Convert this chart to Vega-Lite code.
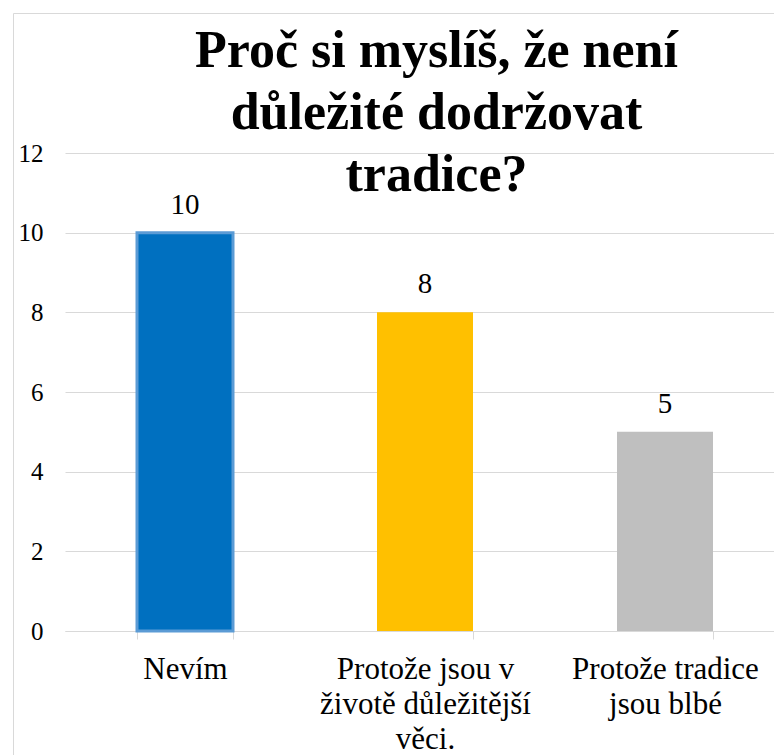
{
  "$schema": "https://vega.github.io/schema/vega-lite/v6.json",
  "autosize": "none",
  "padding": {"left": 13, "top": 13, "right": 0, "bottom": 0},
  "width": 761,
  "height": 742,
  "background": "#ffffff",
  "title": {
    "text": ["Proč si myslíš, že není", "důležité dodržovat", "tradice?"],
    "font": "'Liberation Serif', 'Times New Roman', serif",
    "fontSize": 52,
    "fontWeight": "bold",
    "color": "#000000",
    "lineHeight": 62,
    "anchor": "middle",
    "orient": "top",
    "baseline": "alphabetic",
    "offset": 0,
    "dx": 43,
    "dy": 230
  },
  "config": {
    "view": {"stroke": "#D9D9D9", "strokeWidth": 1}
  },
  "data": {
    "values": [
      {"odpoved": "Nevím", "pocet": 10},
      {"odpoved": "Protože jsou v životě důležitější věci.", "pocet": 8},
      {"odpoved": "Protože tradice jsou blbé", "pocet": 5}
    ]
  },
  "encoding": {
    "x": {
      "field": "odpoved",
      "type": "nominal",
      "sort": null,
      "scale": {
        "type": "band",
        "domain": ["Nevím", "Protože jsou v životě důležitější věci.", "Protože tradice jsou blbé"],
        "range": [52, 772],
        "paddingInner": 0.6,
        "paddingOuter": 0.3
      },
      "axis": {
        "title": null,
        "orient": "bottom",
        "offset": -124,
        "domainColor": "#D9D9D9",
        "domainWidth": 1,
        "tickBand": "extent",
        "tickColor": "#D9D9D9",
        "tickSize": 8,
        "tickWidth": 1,
        "labelAngle": 0,
        "labelPadding": 15,
        "labelFont": "'Liberation Serif', 'Times New Roman', serif",
        "labelFontSize": 31,
        "labelLineHeight": 35,
        "labelColor": "#000000",
        "labelLimit": 400,
        "labelOverlap": false,
        "labelExpr": "datum.value === 'Nevím' ? 'Nevím' : (datum.value === 'Protože tradice jsou blbé' ? ['Protože tradice', 'jsou blbé'] : (datum.value === 'Protože jsou v životě důležitější věci.' ? ['Protože jsou v', 'životě důležitější', 'věci.'] : ''))",
        "grid": false
      }
    },
    "y": {
      "field": "pocet",
      "type": "quantitative",
      "scale": {"domain": [0, 12], "range": [618, 140], "nice": false, "zero": true},
      "axis": {
        "title": null,
        "orient": "left",
        "offset": -52,
        "values": [0, 2, 4, 6, 8, 10, 12],
        "domain": false,
        "ticks": false,
        "grid": true,
        "gridColor": "#D9D9D9",
        "gridWidth": 1,
        "labelPadding": 22,
        "labelFont": "'Liberation Serif', 'Times New Roman', serif",
        "labelFontSize": 25,
        "labelColor": "#000000"
      }
    }
  },
  "layer": [
    {
      "mark": {"type": "bar", "strokeWidth": 3},
      "encoding": {
        "color": {
          "field": "odpoved",
          "type": "nominal",
          "scale": {
            "domain": ["Nevím", "Protože jsou v životě důležitější věci.", "Protože tradice jsou blbé"],
            "range": ["#0070C0", "#FFC000", "#BFBFBF"]
          },
          "legend": null
        },
        "stroke": {
          "condition": {"test": "datum.odpoved === 'Nevím'", "value": "#5B9BD5"},
          "value": null
        }
      }
    },
    {
      "mark": {
        "type": "text",
        "baseline": "alphabetic",
        "dy": -19,
        "font": "'Liberation Serif', 'Times New Roman', serif",
        "fontSize": 29,
        "color": "#000000"
      },
      "encoding": {
        "text": {"field": "pocet", "type": "quantitative"}
      }
    }
  ]
}
